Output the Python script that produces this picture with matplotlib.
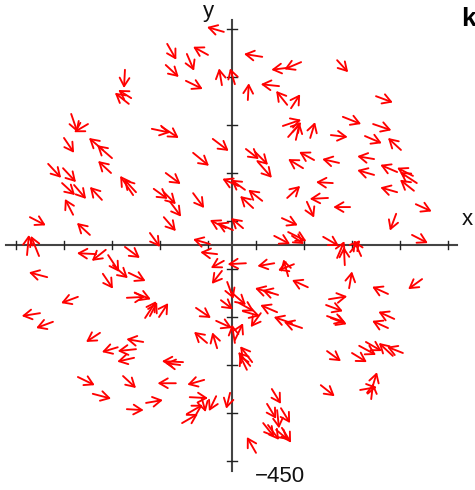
import numpy as np
import matplotlib
matplotlib.use("Agg")
import matplotlib.pyplot as plt

plt.rcParams['font.family'] = ['Liberation Sans', 'DejaVu Sans']

# arrow tails (x, y) and vector components (u, v) in data units
x = [-17, -135, -50, -94, -138, -96, -21, 6, -223, -215, -210, -335, -300, -350, -269, -250,
     -252, -383, -352, -354, -329, -271, -331, -421, -296, -427, -402, -206, -200, -167, -146,
     -40, -81, -138, -163, -142, -129, -81, -142, -13, 2, 13, 27, -171, -46,
     63, 115, 144, 33, 98, 115, 123, 219, 106, 133, 117, 163, 206, 29, 48, 54, 148, 171, 223,
     210, 115, 200, 156, 246, 44, 63, 23, 104, 88, 117, 125, 190, 235, 219, 269, 246,
     300, 231, 294, 277, 352, 296, 344, 377, 385, 296, 344, 379, 383, 342, 375,
     -283, -263, -258, -248, -385, -269, -321, -400, -373, -275, -238, -321, -290, -223, -215,
     -219, -202, -181, -171, -152, -75, -33, -52, -31, -10, -23, -17, -21, -31, 29,
     -102, -108, -185, -200, -204, -227, -117, -58, -219, -179, -88, -33, -63, -94, -104, -4,
     6, 6, 42, 38, 31, -2, 15, 23, 60, 94, 88, 129, 117, 158, 83, 96, 125, 146,
     202, 196, 198, 206, 198, 185, 50, 83, 73, 94, 102, 65, 75, 104, 92,
     244, 396, 325, 338, 325, 250, 265, 279, 335, 356, 292, 267, 290]
y = [444, 419, 396, 398, 375, 342, 333, 335, 365, 294, 306, 273, 252, 223, 198, 181,
     150, 169, 160, 129, 125, 94, 63, 58, 21, -21, -23, 104, 110, 242, 246,
     221, 192, 150, 117, 110, 90, 108, 58, 35, 31, 123, 115, 25, 2,
     392, 369, 381, 302, 331, 292, 285, 385, 248, 219, 225, 223, 229, 200, 194, 173, 160, 177, 171,
     129, 98, 98, 90, 79, 77, 92, 35, 56, 19, 27, 19, 17, -42, -27, -23, -15,
     310, 267, 252, 227, 198, 179, 152, 144, 129, 146, 110, 113, 85, 65, 21,
     -19, -10, -21, -42, -67, -60, -108, -142, -160, -183, -213, -275, -310, -4, -58,
     -110, -100, -152, -148, -150, -131, -158, -204, -215, -77, -115, -33, -54, -19, -38,
     -244, -250, -202, -217, -235, -273, -288, -281, -342, -329, -317, -315, -319, -352, -371, -308,
     -198, -204, -244, -252, -260, -98, -121, -138, -142, -140, -38, -40, -65, -88, -100, -104, -163, -173,
     -113, -125, -148, -152, -221, -292, -433, -300, -331, -344, -340, -371, -375, -381, -385,
     -90, -71, -102, -154, -173, -225, -210, -202, -231, -225, -298, -302, -321]
u = [-35, 19, -31, 15, 27, 35, -6, -10, -2, -29, -27, 13, -29, 21, -29, -31,
     -27, 27, 27, 27, 25, -25, -17, 33, -27, 4, -17, -27, -25, 38, 35,
     33, 33, 31, 29, 25, 23, 23, 25, -33, -33, -33, -29, 21, -35,
     -38, -33, -35, 2, -38, -23, 19, 23, 38, 8, 27, 10, 35, 27, 27, 29, -31, -31, -35,
     -35, 27, -38, 15, -35, -27, -29, -25, 33, 33, 38, 25, 33, -2, 15, -15, 21,
     35, 38, 38, 35, -27, -35, -35, -33, -35, -35, -35, -29, 33, -13, 33,
     -40, -29, 23, 31, -38, 21, -35, -38, -35, -29, -33, 35, 38, 31, 35,
     38, 33, 23, 15, 19, 31, 33, -27, -10, 13, 25, -27, -21, -35, -38,
     -44, -31, -35, -38, -35, 27, -38, -35, 35, 35, 38, -15, 8, 33, 33, -8,
     17, -6, -25, -25, -15, 31, 31, 35, -21, -35, -35, -33, -10, -33, -35, -33, -38, -38,
     38, 35, 38, 33, 29, 29, -19, 19, 19, 4, 19, 23, 23, 19, 25,
     6, -29, -33, -33, -33, 31, 35, 33, -29, -33, 10, 35, 4]
v = [10, -33, 17, -35, -25, -17, 35, 33, -38, 23, 17, -38, -17, -31, 25, 27,
     25, -29, -29, -25, -29, 27, 33, -17, 25, 42, 42, 40, 27, -8, -23,
     -25, -27, -23, -21, -25, -31, -31, -29, 17, 15, 15, 21, -29, 10,
     6, -4, -15, 35, 4, 29, 29, -25, 13, 35, 31, 33, -4, -21, -27, -33, 19, 17, 8,
     2, 25, -2, -33, 0, 25, 23, 21, -15, -17, -19, -17, -19, 38, 35, 33, 25,
     -13, -15, -13, -15, 25, 6, 15, 17, 23, 10, 10, 23, -15, -35, -17,
     2, -23, -35, -27, 10, -31, -13, -6, -13, -19, -10, -17, -10, -23, -17,
     2, -13, 35, 29, 29, -21, -15, 23, 33, -35, -19, -15, -27, 4, -2,
     2, 4, 6, -4, -8, -25, 0, -10, -2, 6, -2, -31, -29, 19, 19, -33,
     35, 38, 33, 29, 31, -27, -17, -10, -29, 15, -6, -13, 35, 15, 10, 10, 13, 13,
     6, -13, -13, -13, -21, -23, 33, -31, -31, -38, -31, -29, -31, -31, -21,
     35, -21, 15, 15, 15, -19, -19, -19, 27, 13, 33, 6, 33]

ticks = list(range(-450, 451, 100))
x_label = "x"
y_label = "y"
bottom_label = "\u2212450"
corner_label = "k"

fig = plt.figure(figsize=(4.75, 4.9), dpi=100)
ax = fig.add_axes([0, 0, 1, 1])
ax.set_xlim(-483.3, 506.25)
ax.set_ylim(-510.4, 510.4)
ax.axis('off')

axis_color = '#444444'
ax.plot([-471, 469], [0, 0], color=axis_color, lw=1.5, zorder=1)
ax.plot([0, 0], [-471, 469], color=axis_color, lw=1.5, zorder=1)
for t in ticks:
    ax.plot([t, t], [-8, 8], color='#222222', lw=1.0, zorder=1)
    ax.plot([-10, 10], [t, t], color='#222222', lw=1.0, zorder=1)

for xi, yi, ui, vi in zip(x, y, u, v):
    ax.annotate('', xy=(xi + ui, yi + vi), xytext=(xi, yi), xycoords='data',
                arrowprops=dict(arrowstyle='->,head_length=0.6,head_width=0.35',
                                color='#ff0000', lw=1.35, shrinkA=0, shrinkB=0),
                zorder=3)

ax.text(490, 54, x_label, ha='center', va='center', fontsize=16, color='#111111')
ax.text(-50, 486, y_label, ha='center', va='center', fontsize=16, color='#111111')
ax.text(100, -483, bottom_label, ha='center', va='center', fontsize=16, color='#111111')
ax.text(477, 471, corner_label, ha='left', va='center', fontsize=19, fontweight='bold', color='black')

fig.savefig('out.png', dpi=100)
